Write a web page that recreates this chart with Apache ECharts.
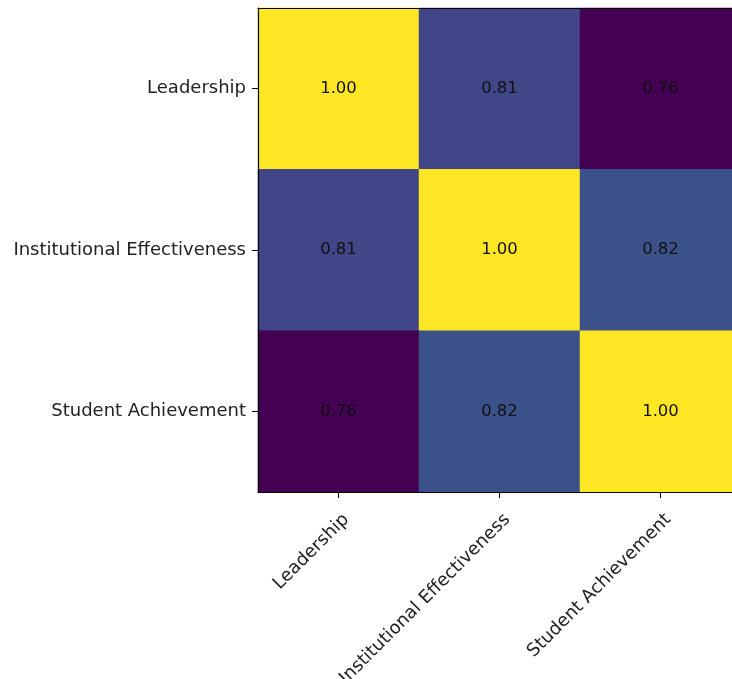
<!DOCTYPE html>
<html>
<head>
<meta charset="utf-8">
<script src="https://cdn.jsdelivr.net/npm/echarts@6/dist/echarts.min.js"></script>
<style>
  html, body { margin: 0; padding: 0; background: #fff; }
  #chart { width: 732px; height: 679px; }
</style>
</head>
<body>
<div id="chart"></div>
<script>
// 数据
const labels = ['Leadership', 'Institutional Effectiveness', 'Student Achievement'];
const rowLeadership = [1.00, 0.81, 0.76];
const rowInstitutional = [0.81, 1.00, 0.82];
const rowStudent = [0.76, 0.82, 1.00];
const matrix = [rowLeadership, rowInstitutional, rowStudent];

// viridis 色带
const viridis = ['#440154', '#482475', '#414487', '#355f8d', '#2a788e', '#21918c',
  '#22a884', '#44bf70', '#7ad151', '#bddf26', '#fde725'];

const cells = [];
matrix.forEach((row, yi) => {
  row.forEach((v, xi) => cells.push([xi, yi, v]));
});
const vals = cells.map(c => c[2]);

const font = 'DejaVu Sans';
const axisLine = { show: true, lineStyle: { color: '#000', width: 1.2 } };
const chart = echarts.init(document.getElementById('chart'));
chart.setOption({
  animation: false,
  textStyle: { fontFamily: font },
  grid: { left: 258, top: 8, width: 483, height: 484, outerBoundsMode: 'none', containLabel: false },
  xAxis: [{
    type: 'category',
    data: labels,
    position: 'bottom',
    z: 10,
    axisLine: axisLine,
    axisTick: { show: true, alignWithLabel: true, length: 6, lineStyle: { color: '#000' } },
    axisLabel: {
      rotate: 45, color: '#222', fontSize: 18, fontFamily: font, margin: 17,
      lineHeight: 18, verticalAlign: 'top', padding: [2, 0, 0, 0]
    }
  }, {
    type: 'category',
    data: labels,
    position: 'top',
    z: 10,
    axisLine: axisLine,
    axisTick: { show: false },
    axisLabel: { show: false }
  }],
  yAxis: {
    type: 'category',
    data: labels,
    inverse: true,
    z: 10,
    axisLine: axisLine,
    axisTick: { show: true, alignWithLabel: true, length: 6, lineStyle: { color: '#000' } },
    axisLabel: { color: '#222', fontSize: 18, fontFamily: font, margin: 12 }
  },
  visualMap: {
    show: false,
    min: Math.min(...vals),
    max: Math.max(...vals),
    dimension: 2,
    inRange: { color: viridis }
  },
  series: [{
    type: 'heatmap',
    data: cells,
    label: {
      show: true,
      color: '#111',
      fontSize: 16.5,
      fontFamily: font,
      formatter: p => p.value[2].toFixed(2)
    },
    itemStyle: { borderWidth: 0 },
    emphasis: { disabled: true }
  }]
});
</script>
</body>
</html>
